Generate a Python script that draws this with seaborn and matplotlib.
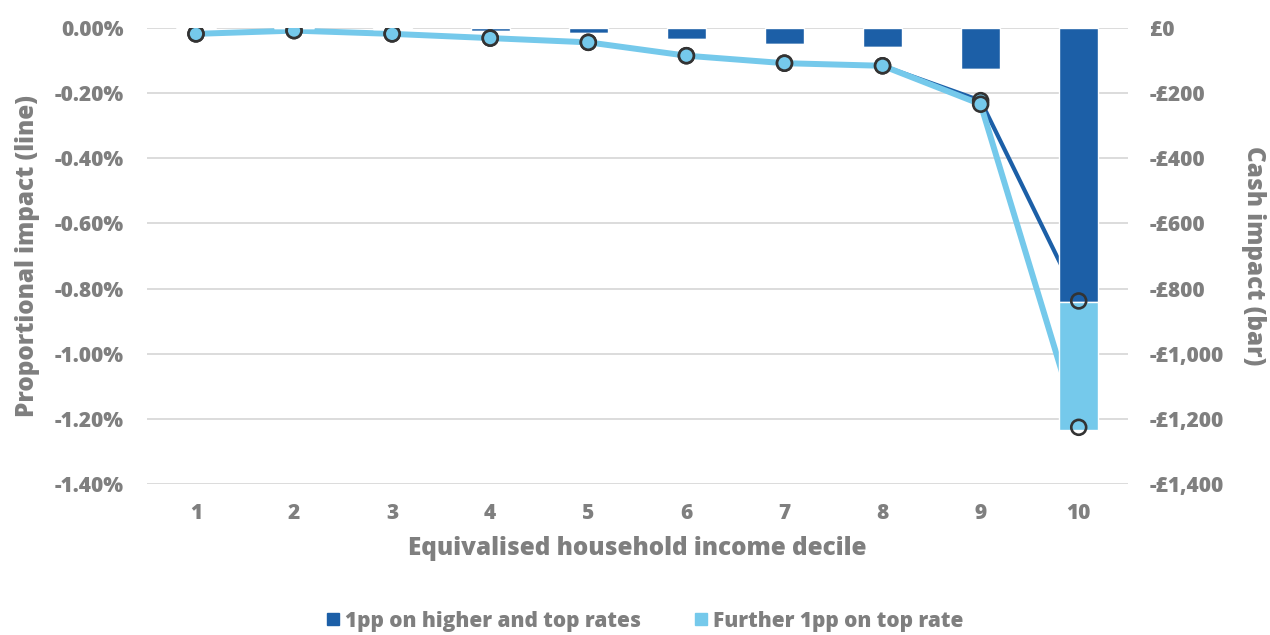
import numpy as np
import matplotlib
matplotlib.use("Agg")
import matplotlib.pyplot as plt
import matplotlib.patches as mpatches
from matplotlib.ticker import FuncFormatter
import seaborn as sns
import pandas as pd

# ---- data ----
deciles = [1, 2, 3, 4, 5, 6, 7, 8, 9, 10]
cash_higher_top = [-1, 0, -3, -10, -15, -35, -48, -57, -126, -841]      # £, dark bars
cash_further_top = [0, 0, 0, 0, 0, 0, 0, 0, 0, -392]                     # £, light bars (stacked)
prop_higher_top = [-0.018, -0.008, -0.018, -0.031, -0.044, -0.085, -0.108, -0.116, -0.223, -0.838]  # %
prop_further_top = [-0.018, -0.008, -0.018, -0.031, -0.044, -0.085, -0.108, -0.116, -0.234, -1.226]  # %
left_ticks = [0.0, -0.2, -0.4, -0.6, -0.8, -1.0, -1.2, -1.4]
right_ticks = [0, -200, -400, -600, -800, -1000, -1200, -1400]
series_names = ["1pp on higher and top rates", "Further 1pp on top rate"]

DARK = "#1c5fa7"
LIGHT = "#75c9eb"
TXT = "#7f7f7f"
GRID = "#d9d9d9"

sns.set_theme(style="white")
plt.rcParams["font.family"] = ["Open Sans", "DejaVu Sans"]
plt.rcParams["font.weight"] = "bold"

fig = plt.figure(figsize=(12.7, 6.35), dpi=100)
ax = fig.add_axes([0.1157, 0.2378, 0.888 - 0.1157, 0.9559 - 0.2378])
ax2 = ax.twinx()
ax3 = ax.twinx()
ax.set_zorder(1)
ax2.set_zorder(2)
ax3.set_zorder(3)
ax2.patch.set_visible(False)
ax3.patch.set_visible(False)

df = pd.DataFrame({"decile": deciles, "a": prop_higher_top, "b": prop_further_top})

# lines (beneath bars)
sns.lineplot(data=df, x="decile", y="a", ax=ax, color=DARK, linewidth=3.0, legend=False)
sns.lineplot(data=df, x="decile", y="b", ax=ax, color=LIGHT, linewidth=4.3, legend=False)

# bars on right axis
ax2.bar(deciles, cash_higher_top, width=0.4, color=DARK, zorder=2)
ax2.bar(deciles, cash_further_top, bottom=cash_higher_top, width=0.4, color=LIGHT, zorder=2)

# markers on top
fc = [LIGHT] * (len(deciles) - 1) + ["none"]
ax3.scatter(deciles, prop_higher_top, s=115, facecolors=fc, edgecolors="#333333", linewidths=1.9, zorder=5)
ax3.scatter(deciles, prop_further_top, s=115, facecolors=fc, edgecolors="#333333", linewidths=1.9, zorder=5)

for a in (ax, ax3):
    a.set_ylim(-1.4, 0)
ax2.set_ylim(-1400, 0)
for a in (ax, ax2, ax3):
    a.set_xlim(0.5, 10.5)
    for s in a.spines.values():
        s.set_visible(False)

ax.set_yticks(left_ticks)
ax.yaxis.set_major_formatter(FuncFormatter(lambda v, p: f"{v:.2f}%"))
ax2.set_yticks(right_ticks)
ax2.yaxis.set_major_formatter(FuncFormatter(lambda v, p: ("-" if v < 0 else "") + f"£{abs(v):,.0f}"))
ax3.set_yticks([])
ax3.set_ylabel("")

ax.grid(axis="y", color=GRID, linewidth=1.3)
ax.grid(axis="x", visible=False)
ax.set_xticks(deciles)
ax.set_xticklabels([str(d) for d in deciles])

ax.tick_params(axis="both", length=0, labelsize=15, labelcolor=TXT)
ax.tick_params(axis="y", pad=17)
ax.tick_params(axis="x", pad=14)
ax2.tick_params(axis="y", length=0, labelsize=15, labelcolor=TXT, pad=16)
for lab in ax.get_xticklabels() + ax.get_yticklabels() + ax2.get_yticklabels():
    lab.set_fontweight(800)

ax.set_xlabel("Equivalised household income decile", fontsize=17.5, color=TXT, fontweight=800, labelpad=8)
ax.set_ylabel("Proportional impact (line)", fontsize=17.5, color=TXT, fontweight=800, labelpad=10)
ax2.set_ylabel("Cash impact (bar)", fontsize=17.5, color=TXT, fontweight=800, rotation=270, labelpad=30)

handles = [mpatches.Patch(color=DARK, label=series_names[0]),
           mpatches.Patch(color=LIGHT, label=series_names[1])]
leg = fig.legend(handles=handles, loc="center", bbox_to_anchor=(0.508, 0.022), ncol=2, frameon=False,
                 fontsize=15, handlelength=0.55, handleheight=0.55, handletextpad=0.3, columnspacing=2.6)
for t in leg.get_texts():
    t.set_color(TXT)
    t.set_fontweight(800)

fig.savefig("out.png", dpi=100)
